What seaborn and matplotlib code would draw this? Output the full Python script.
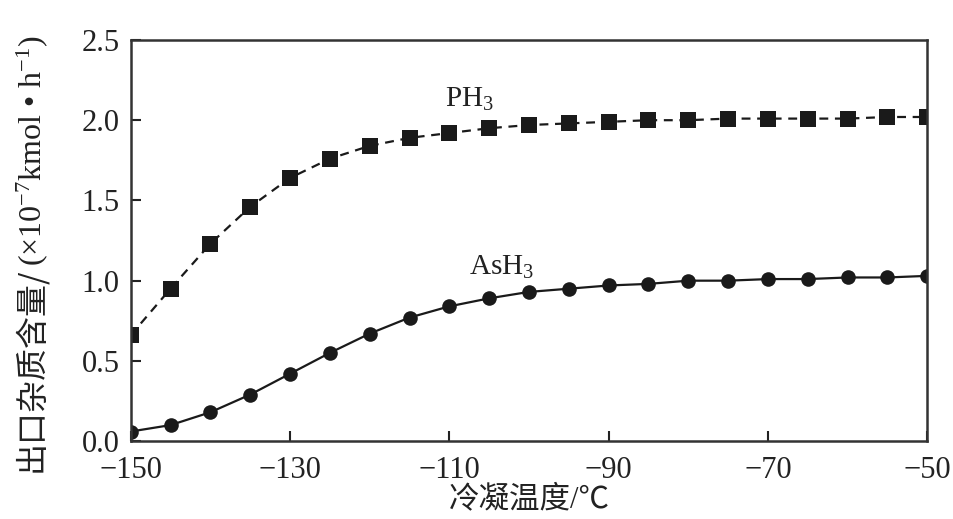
import matplotlib
matplotlib.use("Agg")
import matplotlib.pyplot as plt
import seaborn as sns
import pandas as pd

temps = [-150, -145, -140, -135, -130, -125, -120, -115, -110, -105, -100,
         -95, -90, -85, -80, -75, -70, -65, -60, -55, -50]
ph3 = [0.66, 0.95, 1.23, 1.46, 1.64, 1.76, 1.84, 1.89, 1.92, 1.95, 1.97,
       1.98, 1.99, 2.00, 2.00, 2.01, 2.01, 2.01, 2.01, 2.02, 2.02]
ash3 = [0.06, 0.10, 0.18, 0.29, 0.42, 0.55, 0.67, 0.77, 0.84, 0.89, 0.93,
        0.95, 0.97, 0.98, 1.00, 1.00, 1.01, 1.01, 1.02, 1.02, 1.03]
xticks = [-150, -130, -110, -90, -70, -50]
yticks = [0.0, 0.5, 1.0, 1.5, 2.0, 2.5]
ylabel_cjk = "出口杂质含量/"
ylabel_unit = "(×10$^{-7}$kmol • h$^{-1}$)"
xlabel = "冷凝温度/℃"

sns.set_style("ticks")
plt.rcParams['font.family'] = ['Liberation Serif', 'Noto Sans CJK SC', 'DejaVu Sans']
plt.rcParams['mathtext.fontset'] = 'custom'
plt.rcParams['mathtext.rm'] = 'Liberation Serif'
plt.rcParams['mathtext.it'] = 'Liberation Serif:italic'
plt.rcParams['mathtext.bf'] = 'Liberation Serif:bold'

df = pd.DataFrame({"T": temps, "PH3": ph3, "AsH3": ash3})

fig = plt.figure(figsize=(9.54, 5.19), dpi=100)
ax = fig.add_axes([0.137, 0.150, 0.835, 0.773])

sns.lineplot(data=df, x="T", y="PH3", ax=ax, color="#1a1a1a", linestyle=(0, (4, 3)),
             linewidth=1.6, marker="s", markersize=11.5, markeredgewidth=0)
sns.lineplot(data=df, x="T", y="AsH3", ax=ax, color="#1a1a1a", linestyle="-",
             linewidth=1.6, marker="o", markersize=10.5, markeredgewidth=0)

ax.set_xlim(-150, -50)
ax.set_ylim(0, 2.5)
ax.set_xticks(xticks)
ax.set_yticks(yticks)
ax.set_yticklabels([f"{v:.1f}" for v in yticks])
ax.tick_params(direction="in", length=7, width=1.5, labelsize=22,
               colors="#222222", top=False, right=False)
ax.tick_params(axis="x", pad=11)
ax.tick_params(axis="y", pad=8)
for s in ax.spines.values():
    s.set_linewidth(1.8)
    s.set_color("#333333")
    s.set_visible(True)

ax.set_xlabel(xlabel, fontsize=22, labelpad=0, color="#222222")
ax.set_ylabel("")

ax.text(-110.5, 2.13, r"PH$_3$", fontsize=21, ha="left", va="center", color="#222222")
ax.text(-107.5, 1.08, r"AsH$_3$", fontsize=21, ha="left", va="center", color="#222222")

# y label assembled from a CJK part and a math part (mathtext has no font fallback)
W, H = fig.get_size_inches() * fig.dpi
t1 = fig.text(30 / W, 1 - 472 / H, ylabel_cjk, rotation=90, fontsize=23,
              ha="center", va="bottom", color="#222222",
              family=['Noto Sans CJK SC', 'DejaVu Sans'])
fig.canvas.draw()
bb = t1.get_window_extent()
t2 = fig.text(32 / W, (bb.y1 + 2) / H, ylabel_unit, rotation=90, fontsize=23,
              ha="center", va="bottom", color="#222222")

fig.savefig("out.png", dpi=100)
